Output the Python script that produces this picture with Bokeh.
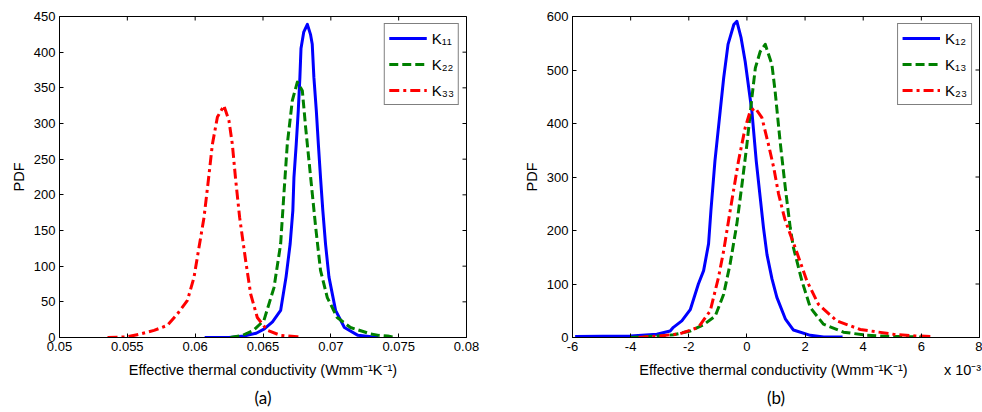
from bokeh.plotting import figure
from bokeh.models import Range1d, FixedTicker, Title
from bokeh.layouts import row
from bokeh.embed import file_html
from bokeh.resources import INLINE

# ---------------- data: panel (a) diagonal components ----------------
k11_x = [0.0607, 0.0625, 0.0636, 0.0645, 0.0651, 0.0657, 0.0663, 0.0667, 0.0670, 0.0672,
         0.06728, 0.06745, 0.0676, 0.06772, 0.0678, 0.0680, 0.06827, 0.0685, 0.06863, 0.06875,
         0.06893, 0.06908, 0.06924, 0.06941, 0.06961, 0.06986, 0.07035, 0.0710, 0.0720, 0.0735]
k11_y = [0, 0, 2, 6, 12, 22, 38, 85, 131, 178,
         224, 271, 318, 365, 405, 428, 439, 425, 411, 365,
         318, 271, 224, 178, 131, 85, 38, 14, 3, 0]

k22_x = [0.0626, 0.06348, 0.0643, 0.06507, 0.06581, 0.0663, 0.06654, 0.06679, 0.06716, 0.06753,
         0.0679, 0.06814, 0.06851, 0.06888, 0.06924, 0.06974, 0.07047, 0.07145, 0.07293, 0.07354,
         0.0742, 0.0748]
k22_y = [0, 3, 10, 24, 70, 131, 201, 271, 332, 358,
         346, 295, 225, 155, 94, 56, 28, 14, 5, 3,
         2, 0]

k33_x = [0.05354, 0.05501, 0.05599, 0.05697, 0.05795, 0.05869, 0.05943, 0.05991, 0.06028, 0.06065,
         0.06094, 0.06127, 0.06164, 0.06212, 0.06249, 0.06274, 0.06298, 0.06328, 0.06372, 0.06409,
         0.06458, 0.06532, 0.0663, 0.06753, 0.0678]
k33_y = [0, 1, 5, 10, 17, 33, 52, 84, 126, 168,
         215, 271, 309, 325, 304, 271, 222, 168, 108, 61,
         28, 10, 3, 1, 0]

# ---------------- data: panel (b) off-diagonal components (x 10^-3) ----------------
k12_x = [-5.91, -4.0, -3.1, -2.64, -2.53, -2.24, -1.95, -1.67, -1.49, -1.32,
         -1.24, -1.1, -0.92, -0.8, -0.65, -0.45, -0.345, -0.2, -0.06, 0.17,
         0.32, 0.46, 0.57, 0.69, 0.86, 1.03, 1.32, 1.6, 2.18, 2.64, 3.29]
k12_y = [2, 3, 6, 12, 19, 31, 52, 100, 125, 175,
         236, 330, 423, 485, 548, 585, 591, 560, 516, 423,
         330, 260, 205, 155, 110, 75, 35, 14, 4, 1, 1]

k13_x = [-4.0, -3.0, -2.53, -1.95, -1.49, -1.09, -0.8, -0.58, -0.35, -0.17,
         0.0, 0.17, 0.29, 0.46, 0.63, 0.86, 0.97, 1.14, 1.32, 1.49,
         1.6, 1.89, 2.18, 2.63, 3.32, 4.13, 5.0, 6.07]
k13_y = [0, 3, 5, 12, 24, 40, 81, 137, 211, 286,
         361, 448, 504, 535, 548, 510, 460, 367, 280, 205,
         168, 106, 56, 25, 10, 4, 2, 1]

k23_x = [-3.73, -3.0, -2.3, -1.67, -1.26, -0.98, -0.8, -0.58, -0.29, -0.06,
         0.11, 0.285, 0.515, 0.74, 0.92, 1.09, 1.3, 1.49, 1.66, 2.06,
         2.46, 3.09, 3.9, 5.04, 5.8, 6.36]
k23_y = [0, 3, 7, 19, 50, 112, 162, 236, 330, 392,
         423, 429, 411, 361, 318, 268, 222, 193, 168, 106,
         62, 31, 15, 6, 3, 2]

# ---------------- ticks ----------------
xa_ticks = [0.05, 0.055, 0.06, 0.065, 0.07, 0.075, 0.08]
xa_labels = ["0.05", "0.055", "0.06", "0.065", "0.07", "0.075", "0.08"]
ya_ticks = [0, 50, 100, 150, 200, 250, 300, 350, 400, 450]
xb_ticks = [-6, -4, -2, 0, 2, 4, 6, 8]
xb_labels = ["-6", "-4", "-2", "0", "2", "4", "6", "8"]
yb_ticks = [0, 100, 200, 300, 400, 500, 600]

x_label = "Effective thermal conductivity (Wmm\u207b\u00b9K\u207b\u00b9)"
scale_note = "x 10\u207b\u00b3"
NB = "\u00a0"
# panel (b): the axis label keeps its centre; the scale note sits to its right on the same row
x_label_b = NB * 17 + x_label + NB * 9 + scale_note

FONT = "Liberation Sans"
BLUE, GREEN, RED = "#0000FF", "#008000", "#FF0000"


def make_panel(xr, yr, xt, xl, yt, series, xlabel, caption, caption_offset, width,
               left_border, right_border):
    p = figure(width=width, height=412,
               min_border_left=left_border, min_border_right=right_border,
               min_border_top=16, min_border_bottom=75,
               x_range=Range1d(*xr), y_range=Range1d(*yr),
               output_backend="svg", toolbar_location=None)
    p.background_fill_color = "white"
    p.border_fill_color = "white"
    p.outline_line_color = "black"
    p.outline_line_width = 1
    p.xgrid.visible = False
    p.ygrid.visible = False

    xax = p.below[0]
    yax = p.left[0]
    xax.ticker = FixedTicker(ticks=xt)
    xax.major_label_overrides = {t: s for t, s in zip(xt, xl)}
    yax.ticker = FixedTicker(ticks=yt)
    for ax in (xax, yax):
        ax.axis_line_color = "black"
        ax.major_tick_in = 4
        ax.major_tick_out = 0
        ax.minor_tick_in = 0
        ax.minor_tick_out = 0
        ax.major_tick_line_color = "black"
        ax.major_label_text_font = FONT
        ax.major_label_text_font_size = "13px"
        ax.major_label_text_color = "black"
        ax.axis_label_text_font = FONT
        ax.axis_label_text_font_size = "14.5px"
        ax.axis_label_text_font_style = "normal"
        ax.axis_label_text_color = "black"
    xax.axis_label = xlabel
    xax.major_label_standoff = 4
    xax.axis_label_standoff = 8
    yax.axis_label = "PDF"
    yax.major_label_standoff = 4
    yax.axis_label_standoff = 4

    # mirrored tick marks on the top and right edges (outer half clipped by the frame)
    p.scatter(xt, [yr[1]] * len(xt), marker="dash", angle=1.5708, size=8,
              line_color="black", line_width=1)
    p.scatter([xr[1]] * len(yt), yt, marker="dash", size=8,
              line_color="black", line_width=1)

    for (xs, ys, color, dash, name) in series:
        p.line(xs, ys, line_color=color, line_width=3, line_dash=dash,
               line_join="round", legend_label=name)

    lg = p.legend[0]
    lg.location = "top_right"
    lg.margin = 7
    lg.padding = 4
    lg.spacing = 6
    lg.label_height = 20
    lg.glyph_height = 20
    lg.glyph_width = 38
    lg.label_standoff = 5
    lg.label_text_font = FONT
    lg.label_text_font_size = "15px"
    lg.label_text_color = "black"
    lg.border_line_color = "black"
    lg.border_line_width = 1.5
    lg.background_fill_color = "white"
    lg.background_fill_alpha = 1.0

    cap = Title(text=caption, align="center", offset=caption_offset, standoff=9,
                text_font="Lato", text_font_size="17px", text_font_style="normal",
                text_color="black")
    p.add_layout(cap, "below")
    return p


pa = make_panel((0.05, 0.08), (0, 450), xa_ticks, xa_labels, ya_ticks,
                [(k11_x, k11_y, BLUE, "solid", "K\u2081\u2081"),
                 (k22_x, k22_y, GREEN, "9 4", "K\u2082\u2082"),
                 (k33_x, k33_y, RED, "10 4 3 4", "K\u2083\u2083")],
                x_label, "(a)", -17, 498, 59, 32)

pb = make_panel((-6, 8), (0, 600), xb_ticks, xb_labels, yb_ticks,
                [(k12_x, k12_y, BLUE, "solid", "K\u2081\u2082"),
                 (k13_x, k13_y, GREEN, "9 4", "K\u2081\u2083"),
                 (k23_x, k23_y, RED, "10 4 3 4", "K\u2082\u2083")],
                x_label_b, "(b)", 0, 484, 74, 3)

layout = row(pa, pb)
open("out.html", "w").write(file_html(layout, INLINE))
